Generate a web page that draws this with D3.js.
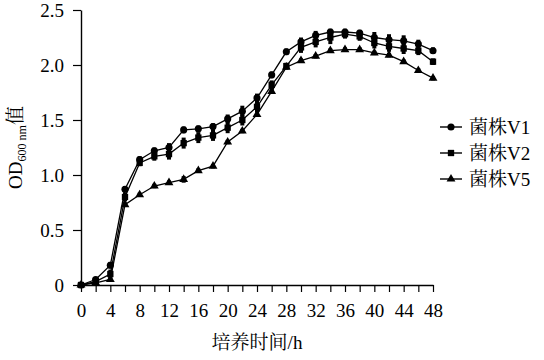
<!DOCTYPE html>
<html>
<head>
<meta charset="utf-8">
<script src="https://cdn.jsdelivr.net/npm/d3@7/dist/d3.min.js"></script>
<style>
  body { margin: 0; background: #fff; }
  text { font-family: "Liberation Serif", "Noto Serif CJK SC", "Noto Sans CJK SC", serif; fill: #000; }
</style>
</head>
<body>
<div id="chart-area"></div>
<script>
const hours = d3.range(0, 49, 2);
const v1 = [0, 0.05, 0.18, 0.87, 1.14, 1.22, 1.25, 1.41, 1.42, 1.44, 1.51, 1.58, 1.70, 1.91, 2.12, 2.21, 2.27, 2.30, 2.30, 2.29, 2.25, 2.23, 2.22, 2.19, 2.13];
const v2 = [0, 0.03, 0.10, 0.80, 1.11, 1.17, 1.19, 1.29, 1.34, 1.36, 1.43, 1.50, 1.62, 1.82, 1.99, 2.16, 2.21, 2.25, 2.28, 2.26, 2.20, 2.17, 2.15, 2.13, 2.03];
const v5 = [0, 0.02, 0.05, 0.73, 0.82, 0.90, 0.93, 0.96, 1.04, 1.08, 1.30, 1.40, 1.55, 1.76, 1.98, 2.04, 2.08, 2.13, 2.14, 2.14, 2.11, 2.09, 2.03, 1.95, 1.88];
const e1 = [0.02, 0.02, 0.03, 0.03, 0.03, 0.03, 0.04, 0.03, 0.03, 0.03, 0.04, 0.05, 0.04, 0.03, 0.03, 0.04, 0.04, 0.03, 0.03, 0.03, 0.05, 0.05, 0.05, 0.04, 0.03];
const e2 = [0.02, 0.02, 0.04, 0.04, 0.03, 0.04, 0.05, 0.05, 0.05, 0.05, 0.05, 0.05, 0.05, 0.04, 0.03, 0.05, 0.05, 0.06, 0.04, 0.04, 0.05, 0.05, 0.05, 0.04, 0.03];
const e5 = [0.01, 0.01, 0.02, 0.02, 0.02, 0.02, 0.02, 0.03, 0.02, 0.02, 0.02, 0.02, 0.02, 0.02, 0.02, 0.02, 0.02, 0.02, 0.02, 0.02, 0.02, 0.02, 0.02, 0.02, 0.02];
const seriesNames = ["菌株V1", "菌株V2", "菌株V5"];
const xTicks = d3.range(0, 49, 4);
const yTicks = [0, 0.5, 1.0, 1.5, 2.0, 2.5];

const margin = { top: 10, right: 111, bottom: 75, left: 81 };
const width = 544 - margin.left - margin.right;
const height = 360 - margin.top - margin.bottom;

const svg = d3.select("#chart-area")
  .append("svg")
  .attr("width", 544)
  .attr("height", 360);

const g = svg.append("g")
  .attr("transform", `translate(${margin.left}, ${margin.top})`);

const x = d3.scaleLinear().domain([0, 48]).range([0, width]);
const y = d3.scaleLinear().domain([0, 2.5]).range([height, 0]);

// minor ticks every 2 h, labels every 4 h
const xAxisCall = d3.axisBottom(x)
  .tickValues(hours)
  .tickSizeInner(7)
  .tickSizeOuter(0)
  .tickFormat(d => xTicks.includes(d) ? d : "");

const yAxisCall = d3.axisLeft(y)
  .tickValues(yTicks)
  .tickSizeInner(8)
  .tickSizeOuter(0)
  .tickFormat(d => d === 0 ? "0" : d3.format(".1f")(d));

const xAxisGroup = g.append("g")
  .attr("transform", `translate(0, ${height})`)
  .call(xAxisCall);

const yAxisGroup = g.append("g").call(yAxisCall);

[xAxisGroup, yAxisGroup].forEach(ax => {
  ax.select(".domain").attr("stroke", "#000").attr("stroke-width", 1.4);
  ax.selectAll(".tick line").attr("stroke", "#000").attr("stroke-width", 1.2);
  ax.selectAll(".tick text")
    .attr("font-family", "Liberation Serif")
    .attr("font-size", "19px")
    .attr("fill", "#000");
});
xAxisGroup.selectAll(".tick text").attr("y", 19);
yAxisGroup.selectAll(".tick text").attr("x", -17);

g.append("text")
  .attr("x", width / 2)
  .attr("y", height + 64)
  .attr("text-anchor", "middle")
  .attr("font-size", "19px")
  .text("培养时间/h");

const yLabel = svg.append("text")
  .attr("transform", `translate(22, ${margin.top + height / 2}) rotate(-90)`)
  .attr("text-anchor", "middle")
  .attr("font-size", "19px");
yLabel.append("tspan").text("OD");
yLabel.append("tspan").attr("font-size", "12px").attr("dy", 4).text("600 nm");
yLabel.append("tspan").attr("dy", -4).text("值");

const series = [
  { name: seriesNames[0], values: v1, errs: e1, shape: d3.symbolCircle, size: 40 },
  { name: seriesNames[1], values: v2, errs: e2, shape: d3.symbolSquare, size: 40 },
  { name: seriesNames[2], values: v5, errs: e5, shape: d3.symbolTriangle, size: 34 }
];

const line = d3.line()
  .x((d, i) => x(hours[i]))
  .y(d => y(d));

series.forEach(s => {
  const sg = g.append("g");

  sg.append("path")
    .datum(s.values)
    .attr("fill", "none")
    .attr("stroke", "#000")
    .attr("stroke-width", 1.3)
    .attr("d", line);

  sg.selectAll(".err")
    .data(s.values)
    .enter()
    .append("line")
    .attr("x1", (d, i) => x(hours[i]))
    .attr("x2", (d, i) => x(hours[i]))
    .attr("y1", (d, i) => y(d - s.errs[i]))
    .attr("y2", (d, i) => y(d + s.errs[i]))
    .attr("stroke", "#000")
    .attr("stroke-width", 4);

  sg.selectAll(".mark")
    .data(s.values)
    .enter()
    .append("path")
    .attr("transform", (d, i) => `translate(${x(hours[i])}, ${y(d)})`)
    .attr("d", d3.symbol().type(s.shape).size(s.size))
    .attr("fill", "#000");
});

const legend = svg.append("g")
  .attr("transform", "translate(440, 127)");

series.forEach((s, i) => {
  const row = legend.append("g").attr("transform", `translate(0, ${i * 26})`);
  row.append("line")
    .attr("x1", 0)
    .attr("x2", 22)
    .attr("stroke", "#000")
    .attr("stroke-width", 1.4);
  row.append("path")
    .attr("transform", "translate(11, 0)")
    .attr("d", d3.symbol().type(s.shape).size(s.size))
    .attr("fill", "#000");
  row.append("text")
    .attr("x", 29)
    .attr("y", 7)
    .attr("font-size", "19px")
    .text(s.name);
});
</script>
</body>
</html>
